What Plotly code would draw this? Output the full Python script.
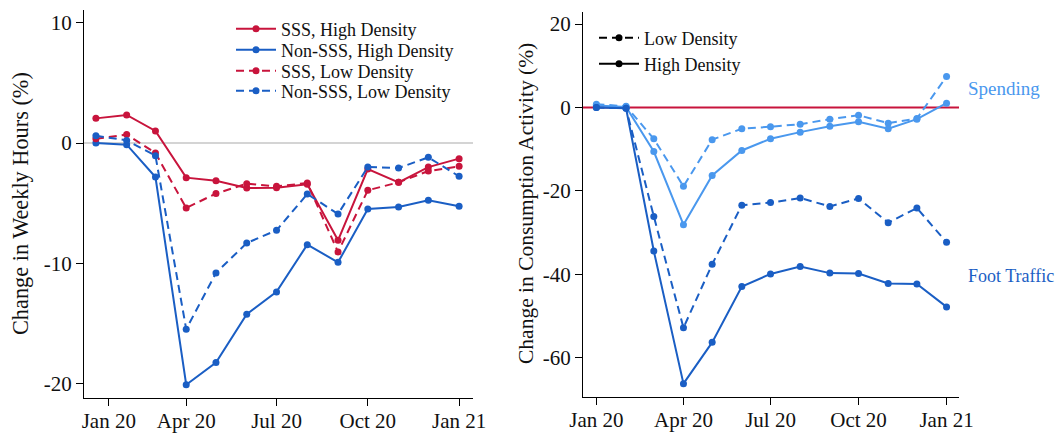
import plotly.graph_objects as go

# ---------------- data ----------------
months = ["2020-01-01", "2020-02-01", "2020-03-01", "2020-04-01", "2020-05-01",
          "2020-06-01", "2020-07-01", "2020-08-01", "2020-09-01", "2020-10-01",
          "2020-11-01", "2020-12-01", "2021-01-01"]

# Left panel: change in weekly hours (%)
sss_high = [2.05, 2.33, 1.0, -2.88, -3.13, -3.74, -3.71, -3.43, -8.09, -2.16, -3.27, -2.0, -1.3]
nonsss_high = [0.0, -0.14, -2.83, -20.1, -18.25, -14.24, -12.38, -8.45, -9.92, -5.48, -5.32, -4.76, -5.26]
sss_low = [0.36, 0.7, -0.83, -5.4, -4.2, -3.38, -3.6, -3.33, -9.06, -3.93, -3.27, -2.33, -1.94]
nonsss_low = [0.61, 0.22, -1.05, -15.48, -10.8, -8.31, -7.26, -4.24, -5.9, -1.99, -2.08, -1.19, -2.77]

# Right panel: change in consumption activity (%)
spend_low = [0.8, 0.3, -7.5, -18.9, -7.7, -5.1, -4.6, -4.0, -2.8, -1.84, -3.76, -2.64, 7.44]
spend_high = [0.5, 0.16, -10.56, -28.1, -16.3, -10.3, -7.5, -5.9, -4.5, -3.44, -5.1, -2.8, 1.04]
foot_low = [0.0, -0.2, -26.1, -52.8, -37.6, -23.4, -22.8, -21.7, -23.7, -21.8, -27.6, -24.1, -32.3]
foot_high = [0.0, -0.2, -34.4, -66.2, -56.3, -42.9, -39.9, -38.1, -39.7, -39.8, -42.2, -42.3, -47.8]

left_tickvals = ["2020-01-14", "2020-04-01", "2020-07-01", "2020-10-01", "2021-01-01"]
right_tickvals = ["2020-01-01", "2020-04-01", "2020-07-01", "2020-10-01", "2021-01-01"]
tick_text = ["Jan 20", "Apr 20", "Jul 20", "Oct 20", "Jan 21"]

# ---------------- style ----------------
RED = "#C8143C"
BLUE = "#1A5EC4"
LIGHT = "#4A98EE"
FONT = "Liberation Serif"
DASH = "8px,5px"
W = 1056
H = 434

fig = go.Figure()

def add(x, y, name, color, dash, xa, ya, legend="legend", show=True, group=None):
    fig.add_trace(go.Scatter(
        x=x, y=y, name=name, mode="lines+markers",
        line=dict(color=color, width=2, dash=dash),
        marker=dict(color=color, size=7),
        xaxis=xa, yaxis=ya, showlegend=show, legend=legend,
        legendgroup=group, cliponaxis=False))

add(months, sss_high, "SSS, High Density", RED, "solid", "x", "y", legend="legend")
add(months, nonsss_high, "Non-SSS, High Density", BLUE, "solid", "x", "y", legend="legend3")
add(months, sss_low, "SSS, Low Density", RED, DASH, "x", "y", legend="legend4")
add(months, nonsss_low, "Non-SSS, Low Density", BLUE, DASH, "x", "y", legend="legend5")

add(months, spend_low, "Spending, Low", LIGHT, DASH, "x2", "y2", show=False)
add(months, spend_high, "Spending, High", LIGHT, "solid", "x2", "y2", show=False)
add(months, foot_low, "Foot Traffic, Low", BLUE, DASH, "x2", "y2", show=False)
add(months, foot_high, "Foot Traffic, High", BLUE, "solid", "x2", "y2", show=False)

# legend-only keys for right panel
add([None], [None], "Low Density", "black", DASH, "x2", "y2", legend="legend2")
add([None], [None], "High Density", "black", "solid", "x2", "y2", legend="legend6")

axis_common = dict(
    showgrid=False, zeroline=False, showline=True, linecolor="black", linewidth=1.3,
    ticks="outside", ticklen=7, tickwidth=1.3, tickcolor="black", automargin=False,
    tickfont=dict(family=FONT, size=21, color="#111"),
)

def leg(x_px, y_px):
    return dict(x=x_px / W, y=1 - y_px / H, xanchor="left", yanchor="middle",
                bgcolor="rgba(0,0,0,0)", font=dict(family=FONT, size=18, color="#111"),
                itemwidth=40, tracegroupgap=0)

fig.update_layout(
    width=W, height=H,
    margin=dict(l=0, r=0, t=0, b=0),
    paper_bgcolor="white", plot_bgcolor="white",
    font=dict(family=FONT, color="#111"),
    xaxis=dict(domain=[84 / W, 473 / W], type="date",
               range=["2019-12-20", "2021-01-15"], ticklabelstandoff=-3,
               tickvals=left_tickvals, ticktext=tick_text, **axis_common),
    yaxis=dict(domain=[1 - 398 / H, 1 - 10 / H], range=[-21.2, 11.06],
               tickvals=[-20, -10, 0, 10], ticktext=["-20", "-10", "0", "10"],
               anchor="x", **axis_common),
    xaxis2=dict(domain=[583 / W, 959 / W], type="date",
                range=["2019-12-18", "2021-01-14"], anchor="y2", ticklabelstandoff=-3,
                tickvals=right_tickvals, ticktext=tick_text, **axis_common),
    yaxis2=dict(domain=[1 - 397 / H, 1 - 12 / H], range=[-69.4, 22.9],
                tickvals=[-60, -40, -20, 0, 20], ticktext=["-60", "-40", "-20", "0", "20"],
                anchor="x2", **axis_common),
    legend=leg(231, 29),
    legend3=leg(231, 50),
    legend4=leg(231, 71),
    legend5=leg(231, 91),
    legend2=leg(594, 38),
    legend6=leg(594, 64),
    showlegend=True,
)

# reference lines at zero
fig.add_shape(type="line", xref="x domain", yref="y", x0=0, x1=1, y0=0, y1=0,
              line=dict(color="#D4D4D4", width=1.8), layer="below")
fig.add_shape(type="line", xref="x2 domain", yref="y2", x0=0, x1=1, y0=0, y1=0,
              line=dict(color=RED, width=2), layer="below")

# axis titles
fig.add_annotation(text="Change in Weekly Hours (%)", x=21 / W, y=1 - 204 / H,
                   xref="paper", yref="paper", textangle=-90, showarrow=False,
                   xanchor="center", yanchor="middle",
                   font=dict(family=FONT, size=22.3, color="#111"))
fig.add_annotation(text="Change in Consumption Activity (%)", x=526 / W, y=1 - 204 / H,
                   xref="paper", yref="paper", textangle=-90, showarrow=False,
                   xanchor="center", yanchor="middle",
                   font=dict(family=FONT, size=21.5, color="#111"))

# series labels
fig.add_annotation(text="Spending", x=966 / W, y=1 - 89 / H, xref="paper", yref="paper",
                   xanchor="left", yanchor="middle", showarrow=False,
                   font=dict(family=FONT, size=19, color=LIGHT))
fig.add_annotation(text="Foot Traffic", x=966 / W, y=1 - 276 / H, xref="paper", yref="paper",
                   xanchor="left", yanchor="middle", showarrow=False,
                   font=dict(family=FONT, size=18, color=BLUE))

fig.write_html("out.html")
